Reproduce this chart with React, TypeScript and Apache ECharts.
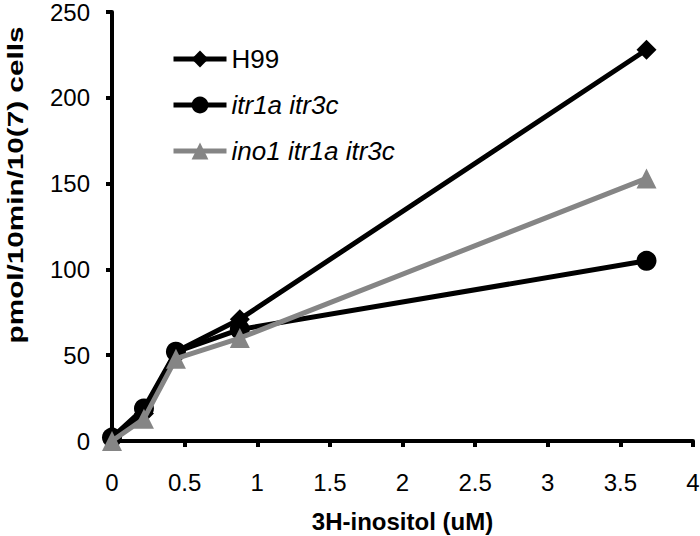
import React, { useEffect, useRef } from "react";
import * as echarts from "echarts";

const xValues = [0, 0.22, 0.44, 0.88, 3.68];
const h99 = [2, 16, 52, 71, 228];
const itr1aItr3c = [2, 19, 52, 65, 105];
const ino1Itr1aItr3c = [0, 13, 48, 60, 153];
const seriesNames = ["H99", "itr1a itr3c", "ino1 itr1a itr3c"];
const xTitle = "3H-inositol (uM)";
const yTitle = "pmol/10min/10(7) cells";

const FONT = "'Liberation Sans', Arial, sans-serif";

export default function App() {
  const ref = useRef<HTMLDivElement>(null);
  useEffect(() => {
    if (!ref.current) return;
    const chart = echarts.init(ref.current, null, { renderer: "svg" });
    const pairs = (ys: number[]) => xValues.map((x, i) => [x, ys[i]]);
    chart.setOption({
      animation: false,
      backgroundColor: "#fff",
      textStyle: { fontFamily: FONT },
      grid: { left: 112, right: 7, top: 12, bottom: 95, outerBoundsMode: "none" },
      legend: {
        orient: "vertical",
        left: 166,
        top: 41,
        itemWidth: 53,
        itemHeight: 21,
        itemGap: 20,
        data: seriesNames,
        lineStyle: { width: 5 },
        formatter: (name: string) => (name === "H99" ? name : `{i|${name}}`),
        textStyle: {
          fontSize: 26,
          color: "#000",
          fontFamily: FONT,
          rich: { i: { fontSize: 26, fontStyle: "italic", color: "#000", fontFamily: FONT } },
        },
      },
      xAxis: {
        type: "value",
        min: 0,
        max: 4,
        interval: 0.5,
        name: xTitle,
        nameLocation: "middle",
        nameGap: 68,
        nameTextStyle: { fontSize: 24, fontWeight: "bold", color: "#000", fontFamily: FONT },
        axisLine: { lineStyle: { color: "#000", width: 4 } },
        axisTick: { length: 6, lineStyle: { color: "#000", width: 4 } },
        axisLabel: { fontSize: 24, color: "#000", margin: 29, fontFamily: FONT },
        splitLine: { show: false },
      },
      yAxis: {
        type: "value",
        min: 0,
        max: 250,
        interval: 50,
        axisLine: { show: true, lineStyle: { color: "#000", width: 4 } },
        axisTick: { show: true, length: 6, lineStyle: { color: "#000", width: 4 } },
        axisLabel: { fontSize: 24, color: "#000", margin: 22, fontFamily: FONT },
        splitLine: { show: false },
      },
      graphic: [
        {
          type: "text",
          x: 15,
          y: 185,
          rotation: Math.PI / 2,
          scaleX: 1.35,
          style: {
            text: yTitle,
            font: `bold 22px ${FONT}`,
            fill: "#000",
            align: "center",
            verticalAlign: "middle",
          },
        },
      ],
      series: [
        {
          name: seriesNames[1],
          type: "line",
          data: pairs(itr1aItr3c),
          symbol: "circle",
          symbolSize: 20,
          color: "#000",
          lineStyle: { width: 5, color: "#000" },
          itemStyle: { color: "#000" },
          z: 2,
        },
        {
          name: seriesNames[0],
          type: "line",
          data: pairs(h99),
          symbol: "diamond",
          symbolSize: 20,
          color: "#000",
          lineStyle: { width: 5, color: "#000" },
          itemStyle: { color: "#000" },
          z: 3,
        },
        {
          name: seriesNames[2],
          type: "line",
          data: pairs(ino1Itr1aItr3c),
          symbol: "triangle",
          symbolSize: 20,
          color: "#858585",
          lineStyle: { width: 5, color: "#858585" },
          itemStyle: { color: "#858585" },
          z: 4,
        },
      ],
    });
    return () => chart.dispose();
  }, []);
  return (
    <div
      ref={ref}
      style={{ position: "fixed", left: 0, top: 0, width: 700, height: 536 }}
    />
  );
}
